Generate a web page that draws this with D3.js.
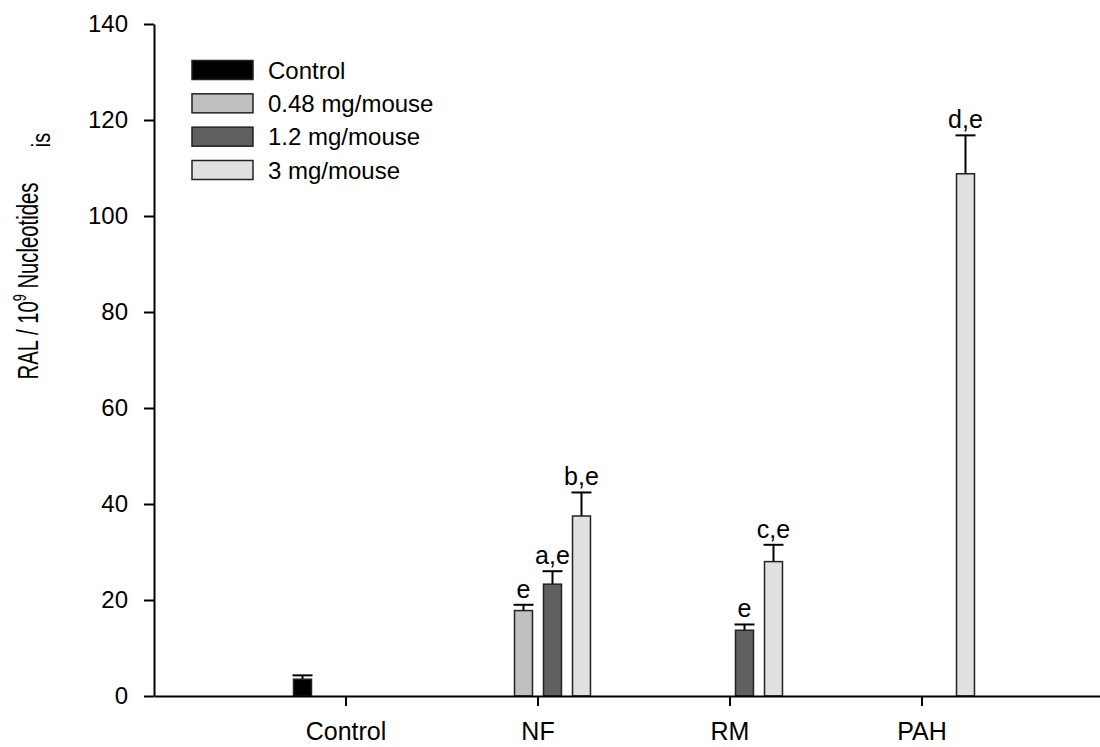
<!DOCTYPE html>
<html>
<head>
<meta charset="utf-8">
<script src="https://cdn.jsdelivr.net/npm/d3@7"></script>
<style>
  body { margin: 0; background: #fff; }
  text { font-family: "Liberation Sans", Arial, sans-serif; fill: #000; }
  .axis path, .axis line { stroke: #000; stroke-width: 2; }
</style>
</head>
<body>
<div id="chart"></div>
<script>
var categories = ["Control", "NF", "RM", "PAH"];
var doses = ["Control", "0.48 mg/mouse", "1.2 mg/mouse", "3 mg/mouse"];
var doseColors = ["#000000", "#c0c0c0", "#606060", "#e0e0e0"];
var yTicks = [0, 20, 40, 60, 80, 100, 120, 140];

// one row per bar: category, dose, mean, error (upper), letters
var barCategory = ["Control", "NF", "NF", "NF", "RM", "RM", "PAH"];
var barDose = ["Control", "0.48 mg/mouse", "1.2 mg/mouse", "3 mg/mouse", "1.2 mg/mouse", "3 mg/mouse", "3 mg/mouse"];
var barValue = [3.5, 17.8, 23.3, 37.5, 13.7, 28.0, 108.8];
var barError = [0.8, 1.2, 2.7, 4.9, 1.2, 3.5, 8.0];
var barLabel = ["", "e", "a,e", "b,e", "e", "c,e", "d,e"];

var width = 1100;
var height = 747;
var margin = {top: 24, left: 154, right: 0, bottom: 51};

var svg = d3.select("#chart")
  .append("svg")
  .attr("width", width)
  .attr("height", height);

var xScale = d3.scaleBand()
  .domain(categories)
  .range([margin.left, margin.left + 960])
  .paddingInner(0)
  .paddingOuter(0.5);

var xInner = d3.scaleBand()
  .domain(doses)
  .range([-58, 58])
  .paddingInner(0.38)
  .paddingOuter(0.19);

var yScale = d3.scaleLinear()
  .domain([0, 140])
  .range([height - margin.bottom, margin.top]);

var colorScale = d3.scaleOrdinal().domain(doses).range(doseColors);

var bars = barValue.map(function(v, i) {
  return {cat: barCategory[i], dose: barDose[i], value: v, err: barError[i], label: barLabel[i]};
});

function barX(d) {
  return xScale(d.cat) + xScale.bandwidth() / 2 + xInner(d.dose);
}

// error bars (upper only)
var eb = svg.append("g");
eb.selectAll("line.stem")
  .data(bars)
  .enter()
  .append("line")
    .attr("x1", function(d) { return barX(d) + xInner.bandwidth() / 2; })
    .attr("x2", function(d) { return barX(d) + xInner.bandwidth() / 2; })
    .attr("y1", function(d) { return yScale(d.value); })
    .attr("y2", function(d) { return yScale(d.value + d.err); })
    .attr("stroke", "#000")
    .attr("stroke-width", 2);
eb.selectAll("line.cap")
  .data(bars)
  .enter()
  .append("line")
    .attr("x1", function(d) { return barX(d) - 1; })
    .attr("x2", function(d) { return barX(d) + xInner.bandwidth() + 1; })
    .attr("y1", function(d) { return yScale(d.value + d.err); })
    .attr("y2", function(d) { return yScale(d.value + d.err); })
    .attr("stroke", "#000")
    .attr("stroke-width", 2);

svg.selectAll("rect.bar")
  .data(bars)
  .enter()
  .append("rect")
    .attr("class", "bar")
    .attr("x", barX)
    .attr("y", function(d) { return yScale(d.value); })
    .attr("width", xInner.bandwidth())
    .attr("height", function(d) { return yScale(0) - yScale(d.value); })
    .attr("fill", function(d) { return colorScale(d.dose); })
    .attr("stroke", "#222")
    .attr("stroke-width", 1.5);

svg.selectAll("text.sig")
  .data(bars)
  .enter()
  .append("text")
    .attr("x", function(d) { return barX(d) + xInner.bandwidth() / 2; })
    .attr("y", function(d) { return yScale(d.value + d.err) - 7; })
    .attr("text-anchor", "middle")
    .attr("font-size", 25)
    .text(function(d) { return d.label; });

var xAxis = svg.append("g")
  .attr("class", "axis")
  .attr("transform", `translate(0,${height - margin.bottom})`)
  .call(d3.axisBottom(xScale).tickSize(10).tickSizeOuter(0).tickPadding(16));
xAxis.selectAll("text").attr("font-size", 25).attr("font-family", null);

var yAxis = svg.append("g")
  .attr("class", "axis")
  .attr("transform", `translate(${margin.left},0)`)
  .call(d3.axisLeft(yScale).tickValues(yTicks).tickSize(10).tickSizeOuter(0).tickPadding(16));
yAxis.selectAll("text").attr("font-size", 24).attr("font-family", null);

// y label (condensed, as in the original)
var yLabel = svg.append("text")
  .attr("transform", "translate(38,281) rotate(-90) scale(0.7,1)")
  .attr("text-anchor", "middle")
  .attr("font-size", 29);
yLabel.append("tspan").text("RAL / 10");
yLabel.append("tspan").attr("font-size", 18).attr("dy", -12).text("9");
yLabel.append("tspan").attr("dy", 12).text(" Nucleotides");

svg.append("text")
  .attr("transform", "translate(50,140) rotate(-90) scale(0.8,1)")
  .attr("text-anchor", "middle")
  .attr("font-size", 25)
  .text("is");

// legend
var legend = svg.append("g");
var legendRow = d3.scalePoint().domain(doses).range([70, 170]);
legend.selectAll("rect")
  .data(doses)
  .enter()
  .append("rect")
    .attr("x", 192)
    .attr("y", function(d) { return legendRow(d) - 9.5; })
    .attr("width", 61)
    .attr("height", 19)
    .attr("fill", function(d) { return colorScale(d); })
    .attr("stroke", "#222")
    .attr("stroke-width", 1.5);
legend.selectAll("text")
  .data(doses)
  .enter()
  .append("text")
    .attr("x", 268)
    .attr("y", function(d) { return legendRow(d); })
    .attr("dy", "0.36em")
    .attr("font-size", 24)
    .text(function(d) { return d; });
</script>
</body>
</html>
